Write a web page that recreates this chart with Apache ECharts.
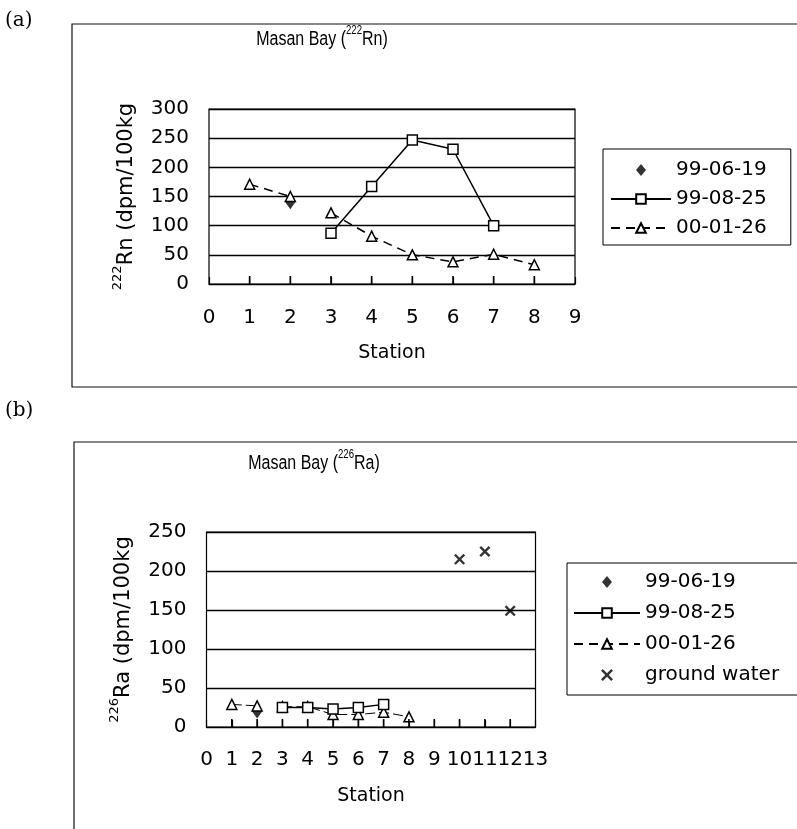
<!DOCTYPE html>
<html><head><meta charset="utf-8">
<script src="https://cdn.jsdelivr.net/npm/echarts@6/dist/echarts.min.js"></script>
<style>html,body{margin:0;padding:0;background:#fff}#c{width:797px;height:829px}</style>
</head><body><div id="c"></div>
<script>
// ---------- DATA ----------
// (a) Masan Bay 222Rn
const rnStations0619 = [2];
const rnValues0619 = [140];
const rnStations0825 = [3, 4, 5, 6, 7];
const rnValues0825 = [87, 167, 247, 231, 100];
const rnStations0126a = [1, 2];
const rnValues0126a = [171, 150];
const rnStations0126b = [3, 4, 5, 6, 7, 8];
const rnValues0126b = [122, 82, 50, 38, 51, 33];
// (b) Masan Bay 226Ra
const raStations0619 = [2];
const raValues0619 = [20];
const raStations0825 = [3, 4, 5, 6, 7];
const raValues0825 = [25, 25, 23, 25, 29];
const raStations0126a = [1, 2];
const raValues0126a = [29, 27];
const raStations0126b = [3, 4, 5, 6, 7, 8];
const raValues0126b = [26, 26, 16, 16, 19, 13];
const gwStations = [10, 11, 12];
const gwValues = [215, 225, 149];

// inner tick stations on the x axes
const tickStationsA = [1, 2, 3, 4, 5, 6, 7, 8];
const tickStationsB = [1, 2, 3, 4, 5, 6, 7, 8, 9, 10, 11, 12];

const seriesNames = ['99-06-19', '99-08-25', '00-01-26', 'ground water'];

// ---------- CHART ----------
function pairs(xs, ys) { return xs.map((x, i) => [x, ys[i]]); }
const F = 'DejaVu Sans';
const X_PATH = 'path://M0,1.5L1.5,0L5,3.5L8.5,0L10,1.5L6.5,5L10,8.5L8.5,10L5,6.5L1.5,10L0,8.5L3.5,5Z';
const DIAMOND_ICON = 'path://M5,0L10,6L5,12L0,6Z';
const openStyle = { color: '#fff', borderColor: '#000', borderWidth: 1.5 };

function xAxisCfg(gi, max, margin, gap) {
  return {
    type: 'value', gridIndex: gi, min: 0, max: max, interval: 1, position: 'bottom',
    name: 'Station', nameLocation: 'middle', nameGap: gap,
    nameTextStyle: { fontFamily: F, fontSize: 19, color: '#000' },
    axisLine: { show: true, onZero: false, lineStyle: { color: '#000', width: 1.2 } },
    axisTick: { show: true, inside: true, length: 7, lineStyle: { color: '#000', width: 1.2 } },
    axisLabel: { margin: margin, fontFamily: F, fontSize: 20, color: '#000' },
    splitLine: { show: false }
  };
}
function yAxisCfg(gi, max, iso, el, gap) {
  return {
    type: 'value', gridIndex: gi, min: 0, max: max, interval: 50,
    name: '{s|' + iso + '}{n|' + el + ' (dpm/100kg}', nameLocation: 'middle', nameGap: gap,
    nameTextStyle: {
      color: '#000',
      rich: {
        s: { fontFamily: F, fontSize: 13, color: '#000', verticalAlign: 'top', lineHeight: 26 },
        n: { fontFamily: F, fontSize: 21, color: '#000', verticalAlign: 'bottom', lineHeight: 26 }
      }
    },
    axisLine: { show: false }, axisTick: { show: false },
    axisLabel: { margin: 20, fontFamily: F, fontSize: 20, color: '#000' },
    splitLine: { show: true, lineStyle: { color: '#000', width: 1.3 } }
  };
}
function triLine(name, gi, data, dash, width) {
  return {
    name: name, type: 'line', xAxisIndex: gi, yAxisIndex: gi, data: data,
    symbol: 'triangle', symbolSize: 10, itemStyle: openStyle,
    lineStyle: { color: '#000', width: width, type: dash }, z: 3
  };
}
// short inside tick marks on the x axis, placed through the axis scale
function tickSeries(gi, stations) {
  return {
    name: 'tick' + gi, type: 'scatter', xAxisIndex: gi, yAxisIndex: gi, clip: false, z: 6,
    data: stations.map(s => [s, 0]),
    symbol: 'rect', symbolSize: [1.6, 8], symbolOffset: [0, -4],
    itemStyle: { color: '#000', opacity: 1 }
  };
}
const titleRich = {
  t: { fontFamily: '"Liberation Sans Narrow", "Liberation Sans"', fontSize: 20, verticalAlign: 'bottom', lineHeight: 25 },
  s: { fontFamily: '"Liberation Sans Narrow", "Liberation Sans"', fontSize: 12, verticalAlign: 'top', lineHeight: 25 }
};
const legendData = seriesNames.map((n, i) => i === 0 ? { name: n, icon: DIAMOND_ICON } : { name: n });

const chart = echarts.init(document.getElementById('c'), null, { renderer: 'canvas' });
chart.setOption({
  animation: false,
  backgroundColor: '#fff',
  grid: [
    { left: 209, top: 109, width: 366, height: 175, show: true, borderColor: '#000', borderWidth: 1.2 },
    { left: 206.5, top: 532, width: 329, height: 195, show: true, borderColor: '#000', borderWidth: 1.2 }
  ],
  xAxis: [xAxisCfg(0, 9, 24, 60), xAxisCfg(1, 13, 23, 60)],
  yAxis: [yAxisCfg(0, 300, '222', 'Rn', 72), yAxisCfg(1, 250, '226', 'Ra', 72)],
  legend: [
    {
      orient: 'vertical', left: 603, top: 149, padding: [11, 24, 7, 7], itemGap: 9,
      itemWidth: 60, itemHeight: 12, borderColor: '#000', borderWidth: 1,
      textStyle: { fontFamily: F, fontSize: 20, color: '#000' },
      data: legendData.slice(0, 3)
    },
    {
      orient: 'vertical', left: 567, top: 563, padding: [9, 30, 10, 6], itemGap: 11,
      itemWidth: 66, itemHeight: 12, borderColor: '#000', borderWidth: 1,
      textStyle: { fontFamily: F, fontSize: 20, color: '#000' },
      data: legendData
    }
  ],
  series: [
    { name: seriesNames[0], type: 'scatter', xAxisIndex: 0, yAxisIndex: 0, data: pairs(rnStations0619, rnValues0619),
      symbol: 'diamond', symbolSize: [10, 14], itemStyle: { color: '#000' }, z: 2 },
    { name: seriesNames[1], type: 'line', xAxisIndex: 0, yAxisIndex: 0, data: pairs(rnStations0825, rnValues0825),
      symbol: 'rect', symbolSize: 10, itemStyle: openStyle, lineStyle: { color: '#000', width: 1.5, type: 'solid' }, z: 4 },
    triLine(seriesNames[2], 0, pairs(rnStations0126a, rnValues0126a), [9, 6], 1.5),
    triLine(seriesNames[2], 0, pairs(rnStations0126b, rnValues0126b), [9, 6], 1.5),

    { name: seriesNames[0], type: 'scatter', xAxisIndex: 1, yAxisIndex: 1, data: pairs(raStations0619, raValues0619),
      symbol: 'diamond', symbolSize: [10, 14], itemStyle: { color: '#000' }, z: 2 },
    { name: seriesNames[1], type: 'line', xAxisIndex: 1, yAxisIndex: 1, data: pairs(raStations0825, raValues0825),
      symbol: 'rect', symbolSize: 10, itemStyle: openStyle, lineStyle: { color: '#000', width: 1.5, type: 'solid' }, z: 4 },
    triLine(seriesNames[2], 1, pairs(raStations0126a, raValues0126a), [10, 4], 1),
    triLine(seriesNames[2], 1, pairs(raStations0126b, raValues0126b), [10, 4], 1),
    { name: seriesNames[3], type: 'scatter', xAxisIndex: 1, yAxisIndex: 1, data: pairs(gwStations, gwValues),
      symbol: X_PATH, symbolSize: 11, itemStyle: { color: '#000' }, z: 2 },
    tickSeries(0, tickStationsA),
    tickSeries(1, tickStationsB)
  ],
  graphic: [
    { type: 'rect', shape: { x: 72, y: 24, width: 760, height: 363 }, style: { fill: 'none', stroke: '#111', lineWidth: 1.2 }, silent: true },
    { type: 'rect', shape: { x: 74, y: 442, width: 760, height: 420 }, style: { fill: 'none', stroke: '#111', lineWidth: 1.2 }, silent: true },
    { type: 'text', x: 5, y: 21, style: { text: '(a)', font: '20px "DejaVu Serif", serif', fill: '#000', verticalAlign: 'middle' } },
    { type: 'text', x: 5, y: 411, style: { text: '(b)', font: '20px "DejaVu Serif", serif', fill: '#000', verticalAlign: 'middle' } },
    { type: 'text', x: 322, y: 37, scaleX: 0.8, style: {
        text: '{t|Masan Bay (}{s|222}{t|Rn)}', align: 'center', verticalAlign: 'middle', fill: '#000', rich: titleRich } },
    { type: 'text', x: 314, y: 461, scaleX: 0.8, style: {
        text: '{t|Masan Bay (}{s|226}{t|Ra)}', align: 'center', verticalAlign: 'middle', fill: '#000', rich: titleRich } }
  ]
});
</script>
</body></html>
